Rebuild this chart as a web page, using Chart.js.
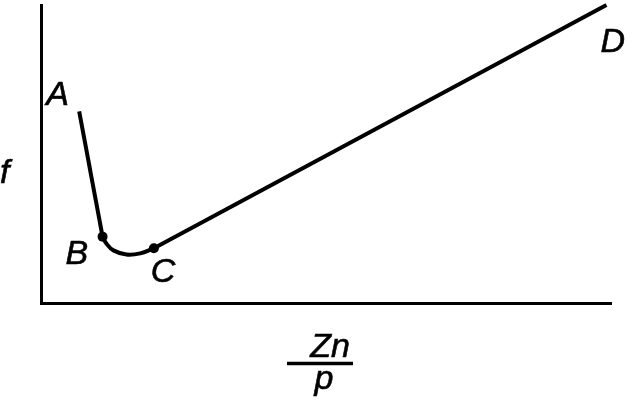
<!DOCTYPE html>
<html>
<head>
<meta charset="utf-8">
<script src="https://cdn.jsdelivr.net/npm/chart.js@4"></script>
<style>
html, body { margin: 0; padding: 0; background: #fff; }
#wrap { width: 627px; height: 400px; }
</style>
</head>
<body>
<div id="wrap"><canvas id="frictionChart"></canvas></div>
<script>
// Friction f against Zn/p (arbitrary units)
const pointNames = ['A', 'B', 'C', 'D'];

// A -> B
const boundaryX = [6.7, 10.8];
const boundaryY = [32.2, 11.2];
// B -> C (the dip)
const mixedX = [10.8, 11.5, 12.7, 15.0, 17.4, 19.8];
const mixedY = [11.2, 10.0, 8.9, 8.2, 8.4, 9.25];
// C -> D
const fluidX = [19.8, 99.2];
const fluidY = [9.25, 50.0];

const toPoints = (xs, ys) => xs.map((x, i) => ({ x: x, y: ys[i] }));

const fontLabel = 'italic 34px "Liberation Sans", Arial, sans-serif';

// letters, axis name "f" and the Zn/p fraction
const textPlugin = {
    id: 'textPlugin',
    afterDraw(chart) {
        const c = chart.ctx;
        const xs = chart.scales.x;
        const ys = chart.scales.y;
        const anchors = [
            [boundaryX[0], boundaryY[0], -33, -6],
            [mixedX[0], mixedY[0], -37, 27],
            [fluidX[0], fluidY[0], -3, 34],
            [fluidX[1], fluidY[1], -6, 47],
        ];
        c.save();
        c.fillStyle = '#000';
        c.strokeStyle = '#000';
        c.lineWidth = 0.6;
        c.font = fontLabel;
        c.textAlign = 'left';
        c.textBaseline = 'alphabetic';
        const put = (t, x, y) => { c.fillText(t, x, y); c.strokeText(t, x, y); };
        anchors.forEach((a, i) => {
            put(pointNames[i], xs.getPixelForValue(a[0]) + a[2], ys.getPixelForValue(a[1]) + a[3]);
        });

        put('f', 0, 183);

        const mid = (chart.chartArea.left + chart.chartArea.right) / 2;
        c.textAlign = 'center';
        put('Zn', mid + 4, 357);
        put('p', mid - 2, 389);
        c.lineWidth = 3.5;
        c.beginPath();
        c.moveTo(mid - 39, 363.5);
        c.lineTo(mid + 27, 363.5);
        c.stroke();
        c.restore();
    }
};

const lineStyle = {
    borderColor: '#000',
    borderWidth: 4,
    pointRadius: 0,
    showLine: true,
    clip: false,
};

const ctx = document.getElementById('frictionChart').getContext('2d');
const frictionChart = new Chart(ctx, {
    type: 'scatter',
    data: {
        datasets: [
            { ...lineStyle, data: toPoints(boundaryX, boundaryY), tension: 0 },
            { ...lineStyle, data: toPoints(mixedX, mixedY), tension: 0.4 },
            { ...lineStyle, data: toPoints(fluidX, fluidY), tension: 0 },
            {
                data: [{ x: mixedX[0], y: mixedY[0] }, { x: fluidX[0], y: fluidY[0] }],
                pointRadius: 5,
                pointBackgroundColor: '#000',
                pointBorderWidth: 0,
                showLine: false,
                clip: false,
            },
        ],
    },
    options: {
        responsive: true,
        maintainAspectRatio: false,
        animation: false,
        events: [],
        layout: {
            padding: { left: 41, right: 16, top: 2, bottom: 96.5 },
        },
        plugins: {
            legend: { display: false },
            tooltip: { enabled: false },
        },
        scales: {
            x: {
                type: 'linear',
                min: 0,
                max: 100,
                grid: { display: false, drawTicks: false },
                ticks: { display: false },
                border: { display: true, color: '#000', width: 3 },
                afterFit: (s) => { s.height = 0; },
            },
            y: {
                type: 'linear',
                min: 0,
                max: 50,
                grid: { display: false, drawTicks: false },
                ticks: { display: false },
                border: { display: true, color: '#000', width: 3 },
                afterFit: (s) => { s.width = 0; },
            },
        },
    },
    plugins: [textPlugin],
});
</script>
</body>
</html>
